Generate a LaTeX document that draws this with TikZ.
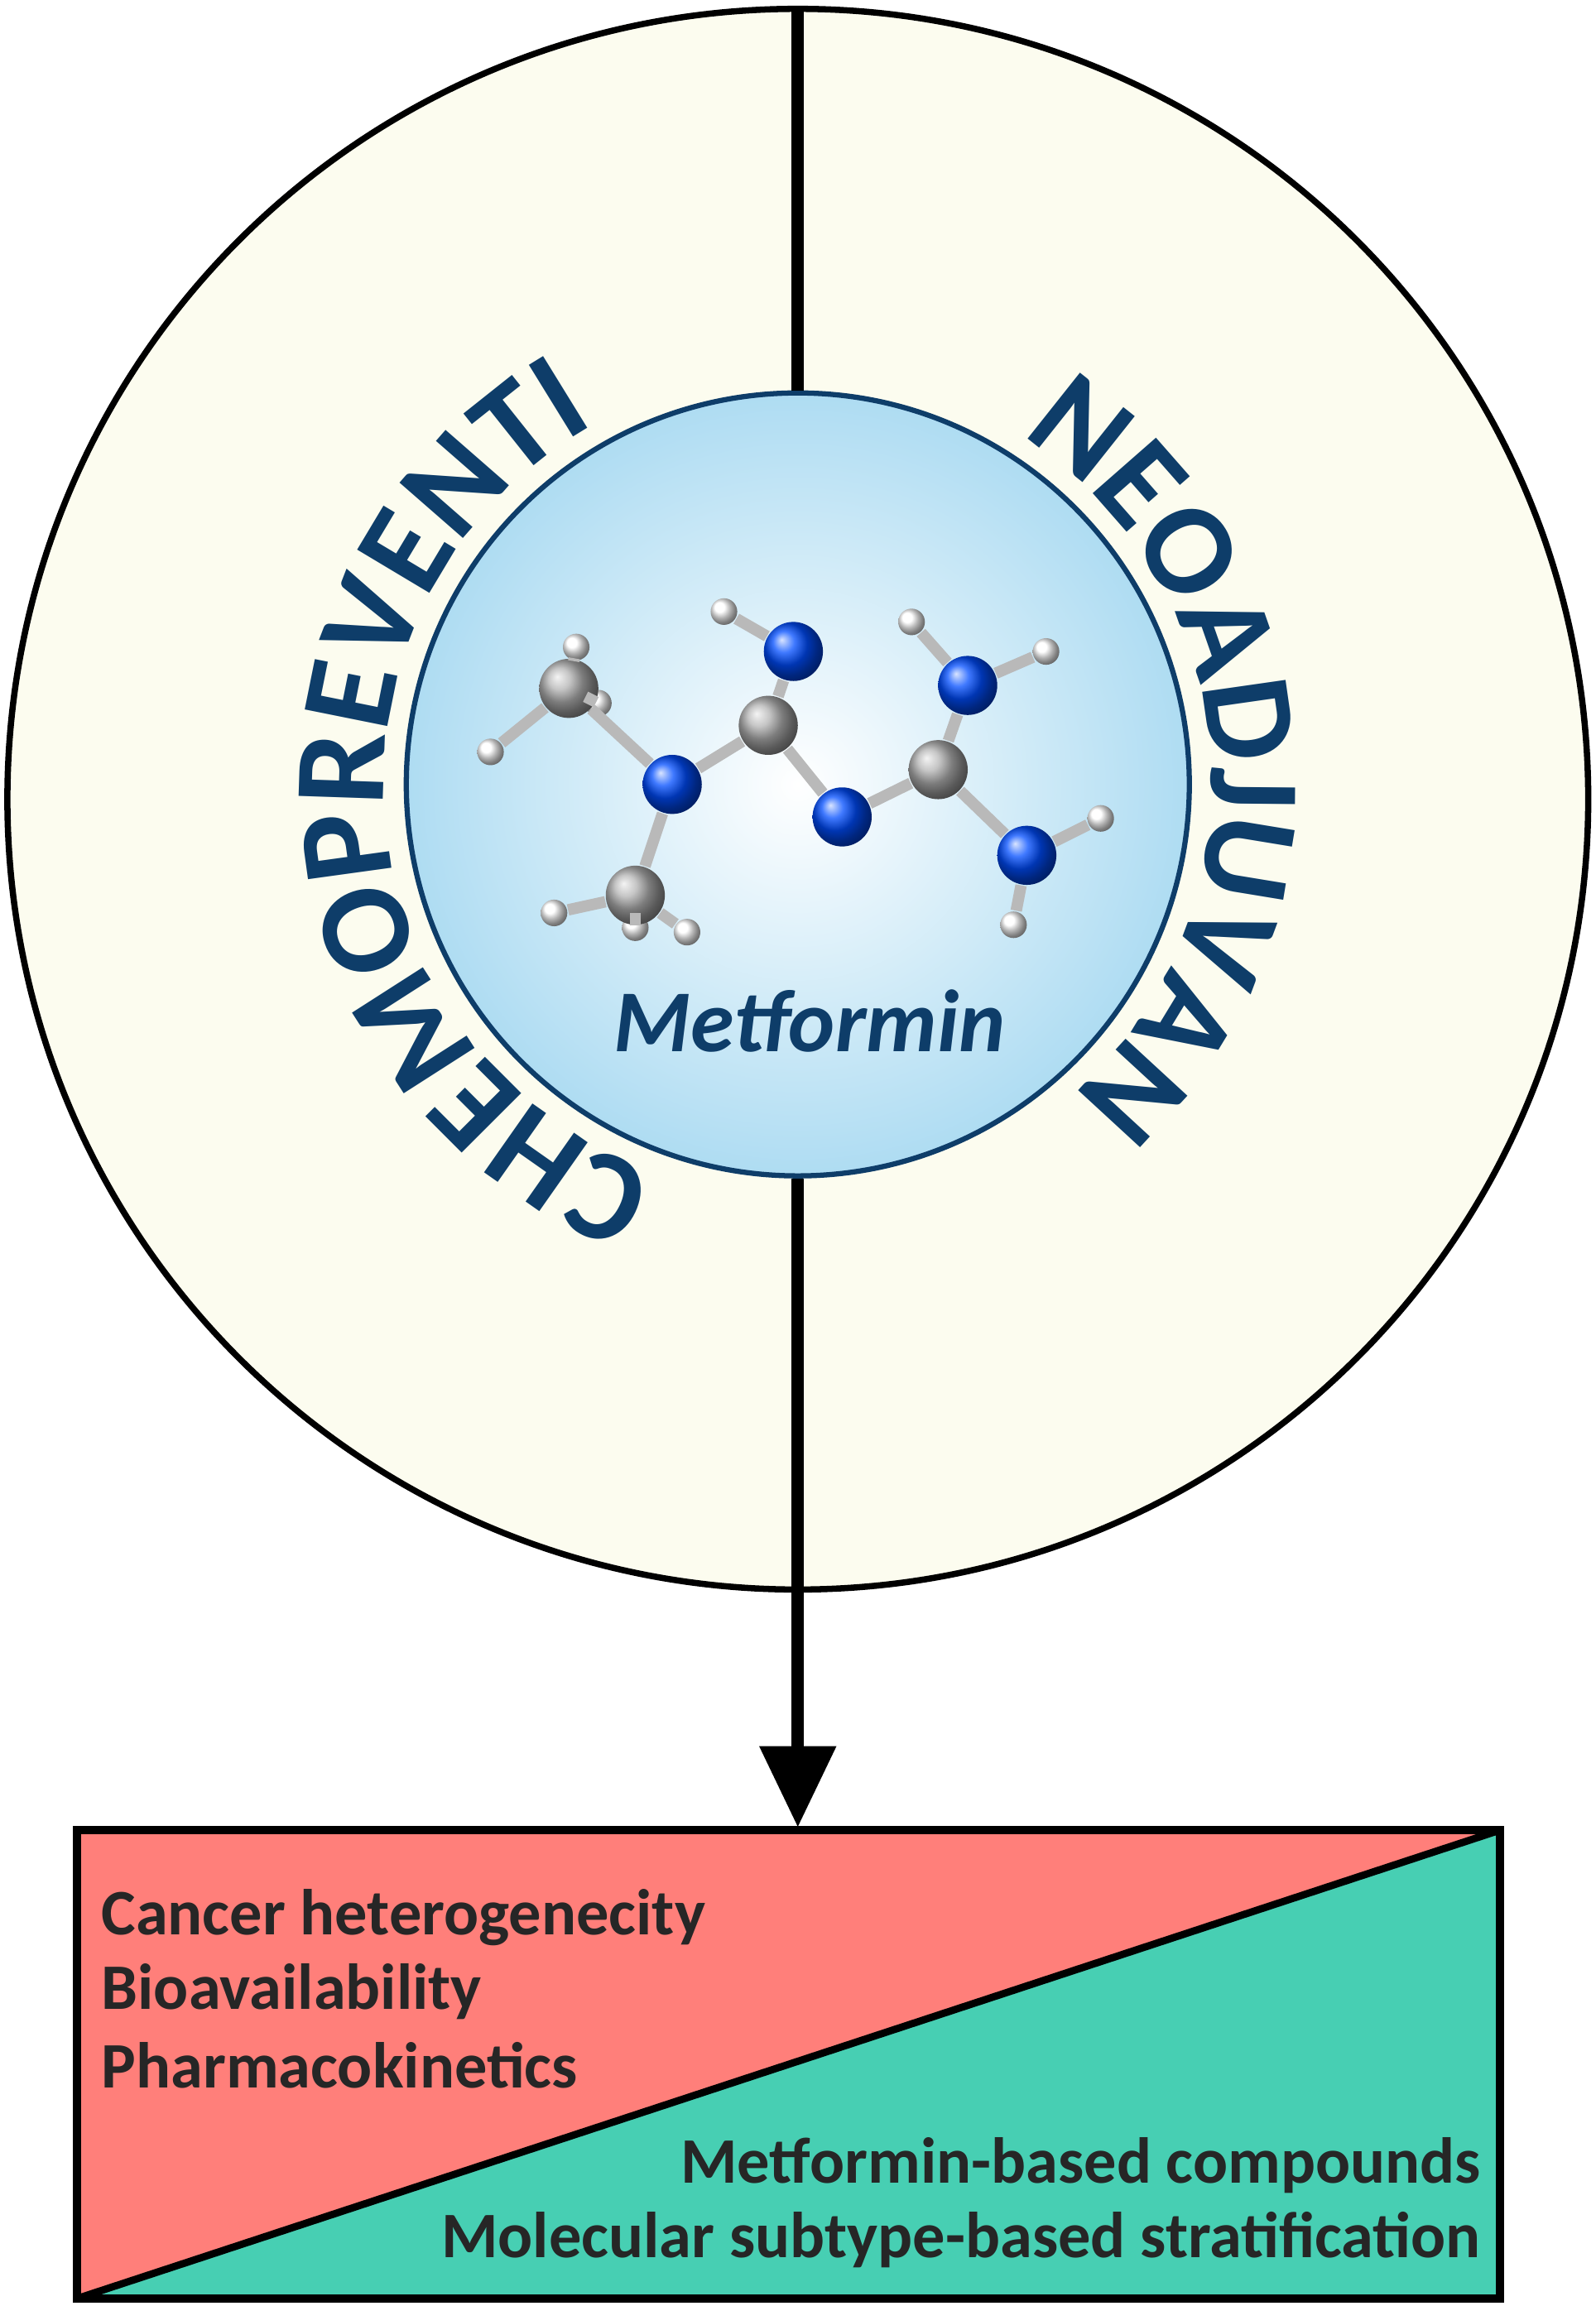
\documentclass[tikz,border=0pt]{standalone}
\usepackage{fontspec}
\setmainfont{Carlito}
\usetikzlibrary{arrows.meta,decorations.text,shadings}

\definecolor{navy}{HTML}{0E3D69}
\definecolor{cream}{HTML}{FCFCEF}
\definecolor{salmon}{HTML}{FF7F7A}
\definecolor{teal}{HTML}{47CFB3}
\definecolor{skyedge}{HTML}{AEDCF2}

\tikzset{
  carbon/.style={circle, minimum size=0.40cm, inner sep=0pt, ball color=gray!60},
  nitro/.style={circle, minimum size=0.40cm, inner sep=0pt, ball color=blue!70!cyan},
  hydro/.style={circle, minimum size=0.18cm, inner sep=0pt, ball color=white},
  bond/.style={line width=2.2pt, draw=gray!55},
  boxtext/.style={font=\fontsize{12.5}{14}\selectfont\bfseries, text=black!85, inner sep=0pt}
}

\begin{document}
\begin{tikzpicture}
  \useasboundingbox (0,0) rectangle (10.80,15.61);

  % Paso 1: anillo exterior y linea central
  \node[circle, draw, line width=1.2pt, fill=cream, minimum size=10.70cm] (outer) at (5.40,10.20) {};
  \coordinate (top) at (5.40,15.57);
  \coordinate (tip) at (5.40,3.24);

  % Paso 2: circulo interior
  \node[circle, draw=navy, line width=1pt, inner color=white, outer color=skyedge, minimum size=5.30cm] (core) at (5.40,10.30) {};
  \draw[line width=2.4pt] (top) -- (core.north);
  \draw[line width=2.4pt, -{Triangle[length=5.5mm,width=5mm]}] (core.south) -- (tip);

  % Paso 3: textos curvos
  \path[decorate, decoration={text along path, text align=center,
      text={|\fontsize{25}{25}\selectfont\bfseries\color{navy}|CHEMOPREVENTIVE}}]
    (core.center) ++(233:2.80) arc[start angle=233, end angle=117, radius=2.80];
  \path[decorate, decoration={text along path, text align=center,
      text={|\fontsize{25}{25}\selectfont\bfseries\color{navy}|NEOADJUVANT}}]
    (core.center) ++(50:2.80) arc[start angle=50, end angle=-50, radius=2.80];

  % Paso 4: molecula
  \foreach \nm/\x/\y in {hA/3.90/11.23, hB/3.32/10.52, hC/4.05/10.85, hD/3.75/9.43, hE/4.30/9.33,
                         hF/4.65/9.30, hG/4.90/11.47, hH/6.17/11.40, hI/7.08/11.20, hJ/7.45/10.07, hK/6.86/9.35}
    \node[hydro] (\nm) at (\x,\y) {};
  \foreach \nm/\x/\y in {cA/3.85/10.95, cB/5.20/10.70, cC/6.35/10.40, cD/4.30/9.55}
    \node[carbon] (\nm) at (\x,\y) {};
  \foreach \nm/\x/\y in {nA/4.55/10.30, nB/5.37/11.20, nC/5.70/10.08, nD/6.55/10.97, nE/6.95/9.82}
    \node[nitro] (\nm) at (\x,\y) {};
  \foreach \a/\b in {cA/hA, cA/hB, cA/hC, cD/hD, cD/hE, cD/hF, nB/hG, nD/hH, nD/hI, nE/hJ, nE/hK,
                     cA/nA, nA/cB, cB/nB, cB/nC, nC/cC, cC/nD, cC/nE, nA/cD}
    \draw[bond] (\a) -- (\b);
  \node[font=\fontsize{17}{17}\selectfont\bfseries\itshape, text=navy] (name) at (5.48,8.70) {Metformin};

  % Paso 5: recuadro inferior
  \coordinate (bl) at (0.52,0.05);
  \coordinate (tr) at (10.15,3.22);
  \fill[salmon] (bl) -- (bl |- tr) -- (tr) -- cycle;
  \fill[teal] (bl) -- (tr) -- (tr |- bl) -- cycle;
  \draw[line width=1.4pt] (bl) -- (tr);
  \draw[line width=1.6pt] (bl) rectangle (tr);

  \node[boxtext, anchor=west] (t1) at (0.68,2.63) {Cancer heterogenecity};
  \node[boxtext, anchor=west] (t2) at (0.68,2.13) {Bioavailability};
  \node[boxtext, anchor=west] (t3) at (0.68,1.63) {Pharmacokinetics};
  \node[boxtext, anchor=east] (t4) at (10.03,0.95) {Metformin-based compounds};
  \node[boxtext, anchor=east] (t5) at (10.03,0.45) {Molecular subtype-based stratification};
\end{tikzpicture}
\end{document}
